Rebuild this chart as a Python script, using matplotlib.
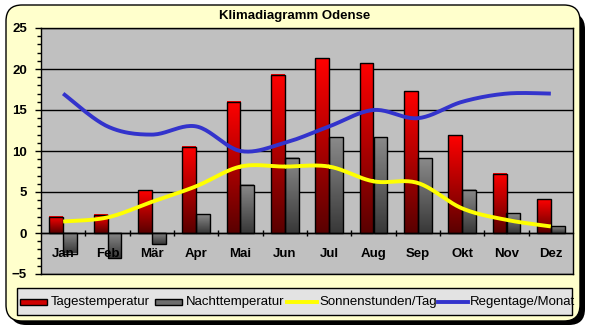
import numpy as np
import matplotlib

matplotlib.use('Agg')
import matplotlib.pyplot as plt
from matplotlib.patches import FancyBboxPatch, Rectangle
from matplotlib.lines import Line2D
from matplotlib.colors import LinearSegmentedColormap

plt.rcParams['font.family'] = ['Liberation Sans', 'DejaVu Sans']

months = ['Jan', 'Feb', 'Mär', 'Apr', 'Mai', 'Jun', 'Jul', 'Aug', 'Sep', 'Okt', 'Nov', 'Dez']
tag_temp = [2.0, 2.2, 5.2, 10.5, 16.0, 19.3, 21.3, 20.7, 17.3, 11.9, 7.2, 4.1]
nacht_temp = [-2.5, -3.1, -1.4, 2.3, 5.9, 9.2, 11.7, 11.7, 9.1, 5.3, 2.4, 0.8]
sonne = [1.4, 1.9, 3.8, 5.7, 8.1, 8.1, 8.1, 6.3, 6.1, 3.0, 1.6, 0.8]
regen = [17, 13, 12, 13, 10, 11, 13, 15, 14, 16, 17, 17]

W, H = 589, 330


def smooth(y, n=24):
    # catmull-rom, like excel's smoothed line
    p = np.column_stack([np.arange(len(y)), y]).astype(float)
    p = np.vstack([p[0], p, p[-1]])
    out = []
    t = np.linspace(0, 1, n)[:, None]
    for i in range(1, len(p) - 2):
        p0, p1, p2, p3 = p[i - 1], p[i], p[i + 1], p[i + 2]
        c = 0.5 * (2 * p1 + (-p0 + p2) * t + (2 * p0 - 5 * p1 + 4 * p2 - p3) * t ** 2
                   + (-p0 + 3 * p1 - 3 * p2 + p3) * t ** 3)
        out.append(c)
    c = np.vstack(out)
    return c[:, 0], c[:, 1]


def gradient_bars(ax, xs, vals, width, cmap):
    grad = np.linspace(1, 0, 128).reshape(-1, 1)
    for x, v in zip(xs, vals):
        lo, hi = min(0, v), max(0, v)
        ax.imshow(grad, extent=[x - width / 2, x + width / 2, lo, hi], cmap=cmap,
                  aspect='auto', origin='upper', zorder=2, interpolation='bilinear')
        ax.add_patch(Rectangle((x - width / 2, lo), width, hi - lo, fill=False,
                               edgecolor='black', lw=1, zorder=3))


fig = plt.figure(figsize=(W / 100, H / 100), dpi=100)
fig.patch.set_facecolor('white')

# background box with shadow
fig.add_artist(FancyBboxPatch((10, 5), 575, 312, boxstyle='round,pad=0,rounding_size=16',
                              transform=None, facecolor='black', edgecolor='none', zorder=0))
fig.add_artist(FancyBboxPatch((6, 9), 574, 316, boxstyle='round,pad=0,rounding_size=16',
                              transform=None, facecolor='#FFFFCC', edgecolor='black', lw=1, zorder=0))

fig.text(295 / W, 1 - 16 / H, 'Klimadiagramm Odense', ha='center', va='center',
         fontsize=9.5, fontweight='bold')

ax = fig.add_axes([41 / W, 1 - 274 / H, 532 / W, 246 / H])
ax.set_facecolor('#C0C0C0')
x = np.arange(len(months))
bw = 0.31

red = LinearSegmentedColormap.from_list('r', ['#5A0000', '#FF0000'])
grey = LinearSegmentedColormap.from_list('g', ['#383838', '#8A8A8A'])
gradient_bars(ax, x - bw / 2, tag_temp, bw, red)
gradient_bars(ax, x + bw / 2, nacht_temp, bw, grey)

sx, sy = smooth(sonne)
ax.plot(sx, sy, color='#FFFF00', lw=2.8, zorder=4, solid_capstyle='butt')
rx, ry = smooth(regen)
ax.plot(rx, ry, color='#3333CC', lw=2.8, zorder=4, solid_capstyle='butt')

ax.set_xlim(-0.5, 11.5)
ax.set_ylim(-5, 25)
ax.set_yticks(np.arange(-5, 26, 5))
ax.set_yticks(np.arange(-5, 26, 1), minor=True)
ax.yaxis.grid(True, color='black', lw=1)
ax.set_axisbelow(True)
ax.tick_params(axis='y', which='major', length=4, width=1, labelsize=9.5, pad=6)
ax.tick_params(axis='y', which='minor', length=3, width=1)
for lab in ax.get_yticklabels():
    lab.set_fontweight('bold')
ax.tick_params(axis='x', bottom=False, labelbottom=False)
for s in ax.spines.values():
    s.set_color('black')
    s.set_linewidth(1)

# category axis sits on the zero line
sec = ax.secondary_xaxis(5 / 30)
sec.set_zorder(6)
sec.set_xticks(x, months)
sec.set_xticks(np.arange(0.5, 11, 1), minor=True)
sec.tick_params(which='major', length=0, pad=11, labelsize=9.5)
sec.tick_params(which='minor', length=4, width=1, direction='inout')
for lab in sec.get_xticklabels():
    lab.set_fontweight('bold')
sec.spines['bottom'].set_linewidth(1)

# legend drawn by hand
fig.add_artist(Rectangle((17, H - 315), 555, 27, transform=None, facecolor='#E3E3E3',
                         edgecolor='black', lw=1, zorder=1))
items = [('patch', '#D00000', 20, 'Tagestemperatur'),
         ('patch', '#6E6E6E', 155, 'Nachttemperatur'),
         ('line', '#FFFF00', 287, 'Sonnenstunden/Tag'),
         ('line', '#3333CC', 438, 'Regentage/Monat')]
ly = H - 301.5
for kind, col, lx, label in items:
    if kind == 'patch':
        fig.add_artist(Rectangle((lx, ly - 3), 27, 6, transform=None, facecolor=col,
                                 edgecolor='black', lw=1, zorder=2))
    else:
        fig.add_artist(Line2D([lx, lx + 30], [ly, ly], transform=None, color=col, lw=2.8, zorder=2))
    tx = lx + 31 if kind == 'patch' else lx + 32
    fig.text(tx / W, ly / H, label, ha='left', va='center', fontsize=9.5, zorder=3)

fig.savefig('out.png', dpi=100)
